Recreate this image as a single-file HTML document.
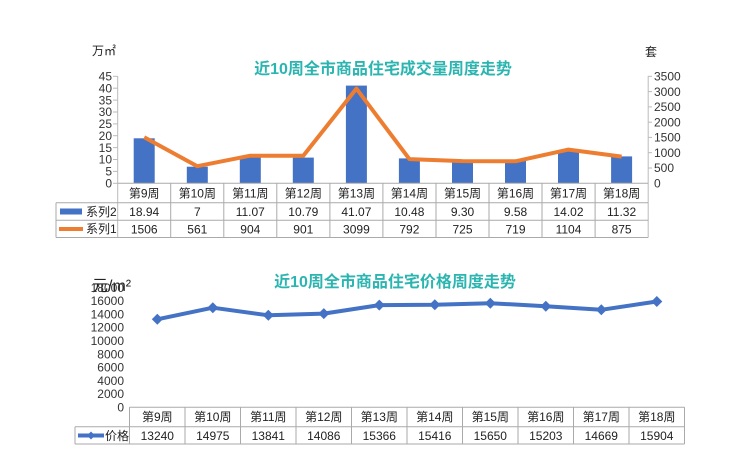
<!DOCTYPE html>
<html><head><meta charset="utf-8"><style>
body{margin:0;background:#fff;}
svg{display:block;font-family:"Liberation Sans","Noto Sans CJK SC",sans-serif;}
</style></head><body>
<svg width="740" height="472" viewBox="0 0 740 472" xmlns="http://www.w3.org/2000/svg">
<rect width="740" height="472" fill="#fff"/>
<!-- TOP CHART -->
<text x="383" y="74" font-size="16" font-weight="bold" fill="#2bb5b0" text-anchor="middle" font-family="Liberation Sans,Noto Sans CJK SC,sans-serif">近10周全市商品住宅成交量周度走势</text>
<text x="104" y="55" font-size="12" fill="#222" text-anchor="middle">万㎡</text>
<text x="651" y="56" font-size="12" fill="#222" text-anchor="middle">套</text>
<g font-size="12" fill="#333" text-anchor="end">
<text x="112" y="187.5">0</text><text x="112" y="175.6">5</text><text x="112" y="163.7">10</text><text x="112" y="151.8">15</text><text x="112" y="139.9">20</text><text x="112" y="128.1">25</text><text x="112" y="116.2">30</text><text x="112" y="104.3">35</text><text x="112" y="92.4">40</text><text x="112" y="80.5">45</text>
</g>
<g font-size="12" fill="#333" text-anchor="start">
<text x="654" y="187.5">0</text><text x="654" y="172.2">500</text><text x="654" y="156.9">1000</text><text x="654" y="141.6">1500</text><text x="654" y="126.4">2000</text><text x="654" y="111.1">2500</text><text x="654" y="95.8">3000</text><text x="654" y="80.5">3500</text>
</g>
<g stroke="#bbb" stroke-width="1">
<line x1="117.7" y1="76" x2="117.7" y2="237.5"/>
<line x1="648.2" y1="76" x2="648.2" y2="237.5"/>
<line x1="113" y1="183.3" x2="117.7" y2="183.3"/><line x1="113" y1="171.4" x2="117.7" y2="171.4"/><line x1="113" y1="159.5" x2="117.7" y2="159.5"/><line x1="113" y1="147.6" x2="117.7" y2="147.6"/><line x1="113" y1="135.7" x2="117.7" y2="135.7"/><line x1="113" y1="123.9" x2="117.7" y2="123.9"/><line x1="113" y1="112" x2="117.7" y2="112"/><line x1="113" y1="100.1" x2="117.7" y2="100.1"/><line x1="113" y1="88.2" x2="117.7" y2="88.2"/><line x1="113" y1="76.3" x2="117.7" y2="76.3"/>
<line x1="648.2" y1="168" x2="652" y2="168"/><line x1="648.2" y1="152.7" x2="652" y2="152.7"/><line x1="648.2" y1="137.4" x2="652" y2="137.4"/><line x1="648.2" y1="122.2" x2="652" y2="122.2"/><line x1="648.2" y1="106.9" x2="652" y2="106.9"/><line x1="648.2" y1="91.6" x2="652" y2="91.6"/><line x1="648.2" y1="76.3" x2="652" y2="76.3"/>
</g>
<g fill="#4472c4">
<rect x="133.7" y="138.3" width="21" height="45"/>
<rect x="186.8" y="166.7" width="21" height="16.6"/>
<rect x="239.8" y="157" width="21" height="26.3"/>
<rect x="292.8" y="157.6" width="21" height="25.7"/>
<rect x="345.9" y="85.6" width="21" height="97.7"/>
<rect x="398.9" y="158.4" width="21" height="24.9"/>
<rect x="452" y="161.2" width="21" height="22.1"/>
<rect x="505" y="160.5" width="21" height="22.8"/>
<rect x="558" y="150" width="21" height="33.3"/>
<rect x="611.1" y="156.4" width="21" height="26.9"/>
</g>
<polyline fill="none" stroke="#ed7d31" stroke-width="4" stroke-linejoin="round" points="144.2,137.3 197.3,166.2 250.3,155.7 303.3,155.8 356.4,88.6 409.4,159.1 462.5,161.1 515.5,161.3 568.5,149.6 621.6,156.6"/>
<!-- top table -->
<g stroke="#aaa" stroke-width="1" fill="none">
<line x1="117.7" y1="183.3" x2="648.2" y2="183.3"/>
<line x1="56" y1="202.7" x2="648.2" y2="202.7"/>
<line x1="56" y1="220.3" x2="648.2" y2="220.3"/>
<line x1="56" y1="237.5" x2="648.2" y2="237.5"/>
<line x1="56" y1="202.7" x2="56" y2="237.5"/>
<line x1="170.7" y1="183.3" x2="170.7" y2="237.5"/><line x1="223.8" y1="183.3" x2="223.8" y2="237.5"/><line x1="276.8" y1="183.3" x2="276.8" y2="237.5"/><line x1="329.9" y1="183.3" x2="329.9" y2="237.5"/><line x1="382.9" y1="183.3" x2="382.9" y2="237.5"/><line x1="436" y1="183.3" x2="436" y2="237.5"/><line x1="489" y1="183.3" x2="489" y2="237.5"/><line x1="542" y1="183.3" x2="542" y2="237.5"/><line x1="595.1" y1="183.3" x2="595.1" y2="237.5"/>
</g>
<rect x="60" y="208.5" width="22" height="6" fill="#4472c4"/>
<line x1="59" y1="229" x2="83" y2="229" stroke="#ed7d31" stroke-width="4"/>
<g font-size="12" fill="#222" text-anchor="start"><text x="86" y="216">系列2</text><text x="86" y="233">系列1</text></g>
<g font-size="12" fill="#222" text-anchor="middle">
<text x="144.2" y="197.5">第9周</text><text x="197.3" y="197.5">第10周</text><text x="250.3" y="197.5">第11周</text><text x="303.3" y="197.5">第12周</text><text x="356.4" y="197.5">第13周</text><text x="409.4" y="197.5">第14周</text><text x="462.5" y="197.5">第15周</text><text x="515.5" y="197.5">第16周</text><text x="568.5" y="197.5">第17周</text><text x="621.6" y="197.5">第18周</text>
<text x="144.2" y="216">18.94</text><text x="197.3" y="216">7</text><text x="250.3" y="216">11.07</text><text x="303.3" y="216">10.79</text><text x="356.4" y="216">41.07</text><text x="409.4" y="216">10.48</text><text x="462.5" y="216">9.30</text><text x="515.5" y="216">9.58</text><text x="568.5" y="216">14.02</text><text x="621.6" y="216">11.32</text>
<text x="144.2" y="233.5">1506</text><text x="197.3" y="233.5">561</text><text x="250.3" y="233.5">904</text><text x="303.3" y="233.5">901</text><text x="356.4" y="233.5">3099</text><text x="409.4" y="233.5">792</text><text x="462.5" y="233.5">725</text><text x="515.5" y="233.5">719</text><text x="568.5" y="233.5">1104</text><text x="621.6" y="233.5">875</text>
</g>
<!-- BOTTOM CHART -->
<text x="395" y="287" font-size="16" font-weight="bold" fill="#2bb5b0" text-anchor="middle">近10周全市商品住宅价格周度走势</text>
<text x="92" y="291" font-size="16" fill="#222">元/m²</text>
<g font-size="12" fill="#333" text-anchor="end">
<text x="124" y="411.5">0</text><text x="124" y="398.2">2000</text><text x="124" y="384.9">4000</text><text x="124" y="371.6">6000</text><text x="124" y="358.3">8000</text><text x="124" y="345">10000</text><text x="124" y="331.7">12000</text><text x="124" y="318.4">14000</text><text x="124" y="305.1">16000</text><text x="124" y="291.8">18000</text>
</g>
<g stroke="#aaa" stroke-width="1" fill="none">
<line x1="129.5" y1="407.3" x2="684.5" y2="407.3"/>
<line x1="75" y1="426.7" x2="684.5" y2="426.7"/>
<line x1="75" y1="444" x2="684.5" y2="444"/>
<line x1="75" y1="426.7" x2="75" y2="444"/>
<line x1="129.5" y1="407.3" x2="129.5" y2="444"/>
<line x1="185" y1="407.3" x2="185" y2="444"/><line x1="240.5" y1="407.3" x2="240.5" y2="444"/><line x1="296" y1="407.3" x2="296" y2="444"/><line x1="351.5" y1="407.3" x2="351.5" y2="444"/><line x1="407" y1="407.3" x2="407" y2="444"/><line x1="462.5" y1="407.3" x2="462.5" y2="444"/><line x1="518" y1="407.3" x2="518" y2="444"/><line x1="573.5" y1="407.3" x2="573.5" y2="444"/><line x1="629" y1="407.3" x2="629" y2="444"/><line x1="684.5" y1="407.3" x2="684.5" y2="444"/>
</g>
<polyline fill="none" stroke="#4472c4" stroke-width="4" stroke-linejoin="round" points="157.3,319.3 212.8,307.7 268.3,315.3 323.8,313.6 379.3,305.1 434.8,304.8 490.3,303.2 545.8,306.2 601.3,309.8 656.8,301.5"/>
<g fill="#4472c4">
<path d="M157.3,313.8 l5.5,5.5 -5.5,5.5 -5.5,-5.5z"/><path d="M212.8,302.2 l5.5,5.5 -5.5,5.5 -5.5,-5.5z"/><path d="M268.3,309.8 l5.5,5.5 -5.5,5.5 -5.5,-5.5z"/><path d="M323.8,308.1 l5.5,5.5 -5.5,5.5 -5.5,-5.5z"/><path d="M379.3,299.6 l5.5,5.5 -5.5,5.5 -5.5,-5.5z"/><path d="M434.8,299.3 l5.5,5.5 -5.5,5.5 -5.5,-5.5z"/><path d="M490.3,297.7 l5.5,5.5 -5.5,5.5 -5.5,-5.5z"/><path d="M545.8,300.7 l5.5,5.5 -5.5,5.5 -5.5,-5.5z"/><path d="M601.3,304.3 l5.5,5.5 -5.5,5.5 -5.5,-5.5z"/><path d="M656.8,296 l5.5,5.5 -5.5,5.5 -5.5,-5.5z"/>
<line x1="78" y1="435.5" x2="104" y2="435.5" stroke="#4472c4" stroke-width="4"/>
<path d="M91,431.5 l4,4 -4,4 -4,-4z"/>
</g>
<g font-size="12" fill="#222" text-anchor="middle">
<text x="157.3" y="421">第9周</text><text x="212.8" y="421">第10周</text><text x="268.3" y="421">第11周</text><text x="323.8" y="421">第12周</text><text x="379.3" y="421">第13周</text><text x="434.8" y="421">第14周</text><text x="490.3" y="421">第15周</text><text x="545.8" y="421">第16周</text><text x="601.3" y="421">第17周</text><text x="656.8" y="421">第18周</text>
<text x="117" y="440">价格</text>
<text x="157.3" y="440">13240</text><text x="212.8" y="440">14975</text><text x="268.3" y="440">13841</text><text x="323.8" y="440">14086</text><text x="379.3" y="440">15366</text><text x="434.8" y="440">15416</text><text x="490.3" y="440">15650</text><text x="545.8" y="440">15203</text><text x="601.3" y="440">14669</text><text x="656.8" y="440">15904</text>
</g>
</svg>
</body></html>
